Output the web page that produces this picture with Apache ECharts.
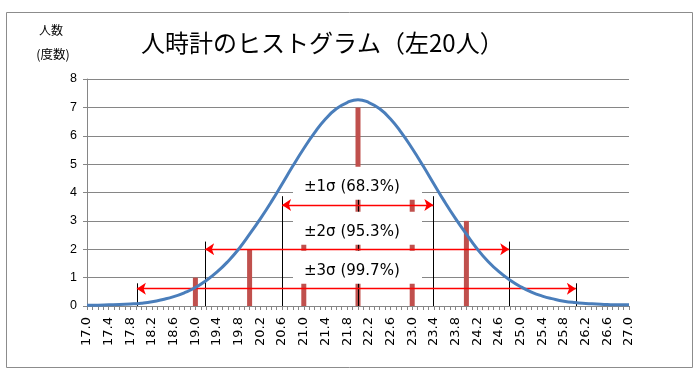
<!DOCTYPE html>
<html>
<head>
<meta charset="utf-8">
<script src="https://cdn.jsdelivr.net/npm/echarts@6/dist/echarts.min.js"></script>
<style>
  html, body { margin: 0; padding: 0; background: #fff; }
  #chart { width: 700px; height: 383px; }
</style>
</head>
<body>
<div id="chart"></div>
<script>
// ---- data ----
const titleText = '人時計のヒストグラム（左20人）';
const yNameLine1 = '人数';
const yNameLine2 = '(度数)';

// histogram (frequency per value)
const barX = [19.0, 20.0, 21.0, 22.0, 23.0, 24.0];
const barCounts = [1, 2, 3, 7, 4, 3];

// normal-distribution curve
const curveX = [17.0, 17.2, 17.4, 17.6, 17.8, 18.0, 18.2, 18.4, 18.6, 18.8,
                19.0, 19.2, 19.4, 19.6, 19.8, 20.0, 20.2, 20.4, 20.6, 20.8,
                21.0, 21.2, 21.4, 21.6, 21.8, 22.0, 22.2, 22.4, 22.6, 22.8,
                23.0, 23.2, 23.4, 23.6, 23.8, 24.0, 24.2, 24.4, 24.6, 24.8,
                25.0, 25.2, 25.4, 25.6, 25.8, 26.0, 26.2, 26.4, 26.6, 26.8, 27.0];
const curveY = [0.03, 0.03, 0.04, 0.05, 0.07, 0.10, 0.15, 0.23, 0.33, 0.47,
                0.65, 0.90, 1.20, 1.57, 2.01, 2.53, 3.08, 3.67, 4.30, 4.94,
                5.55, 6.11, 6.59, 6.95, 7.17, 7.27, 7.17, 6.95, 6.59, 6.11,
                5.55, 4.94, 4.30, 3.67, 3.08, 2.53, 2.01, 1.57, 1.21, 0.92,
                0.68, 0.49, 0.35, 0.25, 0.17, 0.12, 0.09, 0.07, 0.05, 0.04, 0.04];

// sigma ranges
const sigmaLabels = ['±1σ (68.3%)', '±2σ (95.3%)', '±3σ (99.7%)'];
const sigmaLow = [20.60, 19.18, 17.92];
const sigmaHigh = [23.39, 24.79, 26.02];
const sigmaLineTop = [3.87, 2.27, 0.80];
const arrowLevel = [3.56, 2.00, 0.61];
const labelAnchorX = [22.0, 22.0, 22.0];
const labelAnchorY = [4.20, 2.62, 1.24];
const meanX = 22.0;
const meanLineTop = 3.87;

// axis ranges
const xMin = 17.0, xMax = 27.0, xStep = 0.4;
const yMin = 0, yMax = 8, yStep = 1;

// ---- build chart ----
const gray = '#868686';
const chart = echarts.init(document.getElementById('chart'), null, { renderer: 'canvas' });

const vLines = [];
for (let i = 0; i < sigmaLow.length; i++) {
  vLines.push({ coords: [[sigmaLow[i], 0], [sigmaLow[i], sigmaLineTop[i]]] });
  vLines.push({ coords: [[sigmaHigh[i], 0], [sigmaHigh[i], sigmaLineTop[i]]] });
}
const arrows = sigmaLow.map((lo, i) => ({ coords: [[lo, arrowLevel[i]], [sigmaHigh[i], arrowLevel[i]]] }));

const option = {
  animation: false,
  backgroundColor: '#fff',
  title: {
    text: titleText,
    left: 141,
    top: 31,
    padding: 0,
    textStyle: { fontFamily: 'Noto Sans CJK JP', fontSize: 24, fontWeight: 'normal', color: '#000' }
  },
  graphic: [
    { type: 'rect', shape: { x: 6.5, y: 12.5, width: 686, height: 355 }, style: { fill: null, stroke: '#8c8c8c', lineWidth: 1 }, silent: true },
    { type: 'text', x: 51, y: 30, style: { text: yNameLine1, align: 'center', verticalAlign: 'middle', fontFamily: 'Noto Sans CJK JP', fontSize: 12, fill: '#000' } },
    { type: 'text', x: 53, y: 54, style: { text: yNameLine2, align: 'center', verticalAlign: 'middle', fontFamily: 'Noto Sans CJK JP', fontSize: 12.5, fill: '#000' } }
  ],
  grid: { left: 87, right: 71, top: 79, bottom: 77, containLabel: false },
  xAxis: {
    type: 'value', min: xMin, max: xMax, interval: xStep,
    axisLine: { show: true, onZero: false, lineStyle: { color: gray, width: 1 } },
    axisTick: { show: true, length: 4, lineStyle: { color: gray } },
    minorTick: { show: true, splitNumber: 4, length: 4, lineStyle: { color: gray } },
    splitLine: { show: false },
    axisLabel: {
      rotate: 90, margin: 11, color: '#000', fontFamily: 'DejaVu Sans', fontSize: 13,
      showMinLabel: true, showMaxLabel: true,
      formatter: v => Number(v).toFixed(1)
    }
  },
  yAxis: {
    type: 'value', min: yMin, max: yMax, interval: yStep,
    axisLine: { show: true, lineStyle: { color: gray, width: 1 } },
    axisTick: { show: true, length: 4, lineStyle: { color: gray } },
    splitLine: { show: true, lineStyle: { color: gray, width: 1 } },
    axisLabel: { margin: 10, color: '#000', fontFamily: 'Liberation Sans', fontSize: 12.5 }
  },
  series: [
    {
      type: 'bar', z: 2, barWidth: 5, silent: true,
      itemStyle: { color: '#C0504D' },
      data: barX.map((x, i) => [x, barCounts[i]])
    },
    {
      type: 'lines', coordinateSystem: 'cartesian2d', z: 3, silent: true,
      lineStyle: { color: '#000', width: 1, opacity: 1 },
      data: [{ coords: [[meanX, 0], [meanX, meanLineTop]] }]
    },
    {
      type: 'custom', z: 4, silent: true, clip: false,
      data: labelAnchorX.map((x, i) => [x, labelAnchorY[i]]),
      renderItem: function (params, api) {
        const c = api.coord([api.value(0), api.value(1)]);
        return {
          type: 'group',
          children: [
            { type: 'rect', shape: { x: c[0] - 65, y: c[1] - 20, width: 129, height: 33 }, style: { fill: '#fff' } },
            { type: 'text', style: { text: sigmaLabels[params.dataIndex], x: c[0] - 54, y: c[1], align: 'left', verticalAlign: 'middle', fontFamily: 'DejaVu Sans', fontSize: 15, fill: '#000' } }
          ]
        };
      }
    },
    {
      type: 'lines', coordinateSystem: 'cartesian2d', z: 5, silent: true,
      lineStyle: { color: '#000', width: 1, opacity: 1 },
      data: vLines
    },
    {
      type: 'lines', coordinateSystem: 'cartesian2d', z: 6, silent: true,
      symbol: ['arrow', 'arrow'], symbolSize: 9,
      lineStyle: { color: '#FF0000', width: 1.3, opacity: 1 },
      itemStyle: { color: '#FF0000' },
      data: arrows
    },
    {
      type: 'line', z: 7, silent: true, smooth: true, showSymbol: false, symbol: 'none',
      lineStyle: { color: '#4A7EBB', width: 3 },
      data: curveX.map((x, i) => [x, curveY[i]])
    }
  ]
};
chart.setOption(option);
</script>
</body>
</html>
